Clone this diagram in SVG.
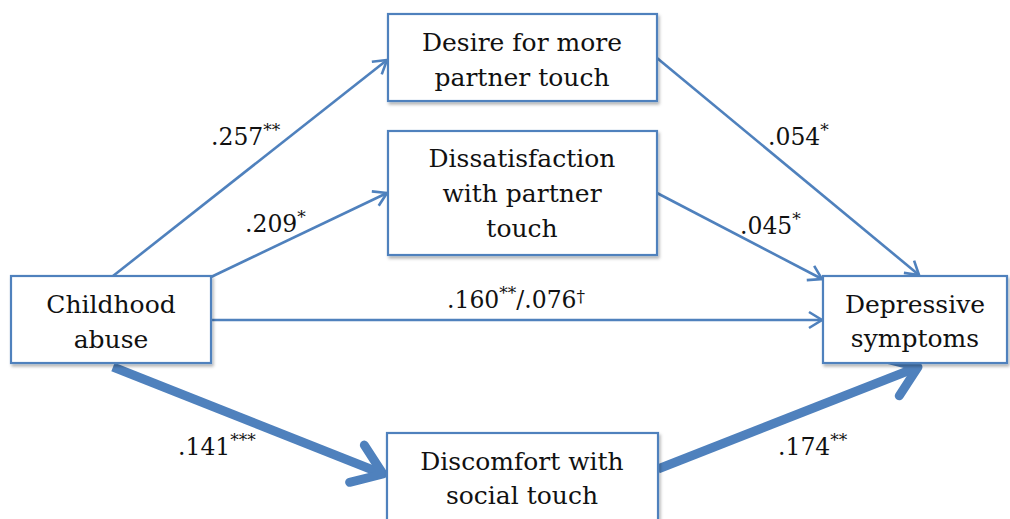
<svg xmlns="http://www.w3.org/2000/svg" width="1010" height="519" viewBox="0 0 1010 519">
<defs>
<style>
text{font-family:'DejaVu Serif','Liberation Serif',serif;fill:#111}
.box{fill:#fff;stroke:#4F81BD;stroke-width:2.2;filter:url(#sh)}
.t{font-size:25px;text-anchor:middle}
.lab{font-size:23.5px}
.sup{font-size:17px}
.thin{fill:none;stroke:#4F81BD;stroke-width:2.6;marker-end:url(#ah)}
.thick{fill:none;stroke:#4F81BD;stroke-width:9;marker-end:url(#ahb)}
</style>
<filter id="sh" x="-10%" y="-10%" width="130%" height="140%">
<feDropShadow dx="1.5" dy="2.5" stdDeviation="1.5" flood-color="#000" flood-opacity="0.3"/>
</filter>
<marker id="ah" markerUnits="userSpaceOnUse" viewBox="-16 -10 20 20" markerWidth="20" markerHeight="20" refX="0" refY="0" orient="auto">
<path d="M-13,-8 L0,0 L-13,8" fill="none" stroke="#4F81BD" stroke-width="2.6" stroke-linejoin="miter"/>
</marker>
<marker id="ahb" markerUnits="userSpaceOnUse" viewBox="-40 -30 50 60" markerWidth="50" markerHeight="60" refX="0" refY="0" orient="auto">
<path d="M-28,-20 L0,0 L-28,20" fill="none" stroke="#4F81BD" stroke-width="9" stroke-linecap="round" stroke-linejoin="round"/>
</marker>
</defs>
<rect width="1010" height="519" fill="#fff"/>
<g id="connectors">
<line class="thin" x1="113" y1="276" x2="387" y2="60"/>
<line class="thin" x1="211" y1="277" x2="387" y2="193"/>
<line class="thin" x1="657" y1="58" x2="919" y2="275"/>
<line class="thin" x1="657" y1="193" x2="822" y2="279"/>
<line class="thin" x1="211" y1="320" x2="822" y2="320"/>
<line class="thick" x1="113" y1="367" x2="383" y2="474"/>
<line class="thick" x1="658" y1="469" x2="918" y2="367"/>
<text class="lab" x="211" y="145">.257<tspan class="sup" dy="-9">**</tspan></text>
<text class="lab" x="245" y="232">.209<tspan class="sup" dy="-9">*</tspan></text>
<text class="lab" x="768" y="145">.054<tspan class="sup" dy="-9">*</tspan></text>
<text class="lab" x="740" y="234">.045<tspan class="sup" dy="-9">*</tspan></text>
<text class="lab" x="447" y="308">.160<tspan class="sup" dy="-9">**</tspan><tspan dy="9">/.076</tspan><tspan class="sup" dy="-6">†</tspan></text>
<text class="lab" x="178" y="455">.141<tspan class="sup" dy="-9">***</tspan></text>
<text class="lab" x="778" y="455">.174<tspan class="sup" dy="-9">**</tspan></text>
</g>
<g id="desire">
<rect class="box" x="388" y="14" width="269" height="87"/>
<text class="t" x="522" y="51">Desire for more</text>
<text class="t" x="522" y="86">partner touch</text>
</g>
<g id="dissatisfaction">
<rect class="box" x="388" y="131" width="269" height="124"/>
<text class="t" x="522" y="167">Dissatisfaction</text>
<text class="t" x="522" y="202">with partner</text>
<text class="t" x="522" y="237">touch</text>
</g>
<g id="childhood">
<rect class="box" x="11" y="276" width="200" height="87"/>
<text class="t" x="111" y="313">Childhood</text>
<text class="t" x="111" y="348">abuse</text>
</g>
<g id="depressive">
<rect class="box" x="823" y="276" width="184" height="87"/>
<text class="t" x="915" y="313">Depressive</text>
<text class="t" x="915" y="347">symptoms</text>
</g>
<g id="discomfort">
<rect class="box" x="387" y="433" width="271" height="100"/>
<text class="t" x="522" y="470">Discomfort with</text>
<text class="t" x="522" y="504">social touch</text>
</g>
</svg>
